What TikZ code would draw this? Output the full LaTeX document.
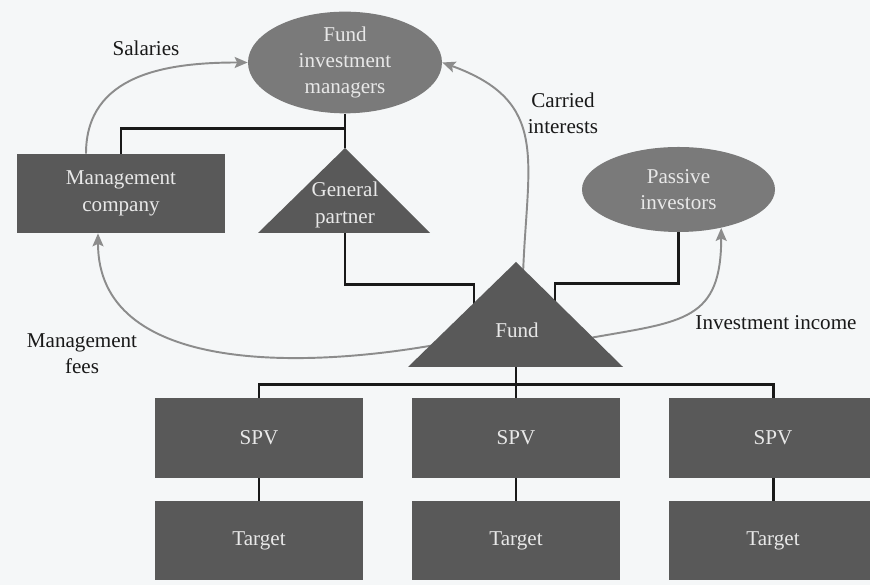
\documentclass[tikz,border=0pt]{standalone}
\usepackage{fontspec}
\setmainfont{Liberation Serif}
\usetikzlibrary{arrows.meta,backgrounds,shapes.geometric}
\definecolor{boxDark}{RGB}{89,89,89}
\definecolor{ovalGray}{RGB}{122,122,122}
\definecolor{flowGray}{RGB}{140,140,140}
\definecolor{paleText}{RGB}{232,232,232}
\definecolor{inkBlack}{RGB}{25,25,25}
\definecolor{pageBg}{RGB}{245,247,248}

\begin{document}
\begin{tikzpicture}[
    font=\fontsize{12}{15}\selectfont, text=inkBlack,
    box/.style={fill=boxDark, text=paleText, minimum width=4.16cm, minimum height=1.58cm, align=center},
    oval/.style={ellipse, fill=ovalGray, text=paleText, minimum width=3.88cm, minimum height=1.7cm, inner sep=0pt, align=center},
    link/.style={line width=1.7pt, inkBlack},
    flow/.style={line width=1.1pt, flowGray, -{Stealth[length=0.26cm,width=0.22cm,inset=0.05cm]}},
    lbl/.style={align=center}
  ]
  \useasboundingbox (0,0) rectangle (17.4,11.7);

  \node[oval] (managers) at (6.9,10.45) {Fund\\investment\\managers};
  \node[oval, minimum width=3.86cm] (passive) at (13.57,7.91) {Passive\\investors};
  \node[box] (mgmtco) at (2.42,7.83) {Management\\company};

  \fill[boxDark] (6.9,8.74) coordinate (gpTop) -- (5.16,7.04) -- (8.6,7.04) -- cycle;
  \node[text=paleText, align=center] (gp) at (6.9,7.6) {General\\partner};
  \coordinate (gpBase) at (6.9,7.04);

  \fill[boxDark] (10.32,6.46) coordinate (fundTop) -- (8.16,4.36) -- (12.46,4.36) -- cycle;
  \node[text=paleText] (fund) at (10.34,5.1) {Fund};
  \coordinate (fundBase) at (10.32,4.36);
  \coordinate (fundLeft) at (9.48,5.3);
  \coordinate (fundRight) at (11.1,5.3);

  \foreach \i/\x in {1/5.18, 2/10.32, 3/15.46} {
    \node[box, minimum height=1.6cm] (spv\i) at (\x,2.94) {SPV};
    \node[box] (target\i) at (\x,0.89) {Target};
  }

  \node[lbl] (salaries) at (2.92,10.74) {Salaries};
  \node[lbl] (carried) at (11.26,9.44) {Carried\\interests};
  \node[lbl] (fees) at (1.64,4.62) {Management\\fees};
  \node[lbl] (income) at (15.52,5.24) {Investment income};

  \begin{scope}[on background layer]
    \fill[pageBg] (0,0) rectangle (17.4,11.7);
    \draw[link] (managers.south) -- (gpTop);
    \draw[link] (mgmtco.north) |- (6.9,9.12);
    \draw[link] (gpBase) |- (9.48,6.0) -- (fundLeft);
    \draw[link] (fundRight) |- (13.57,6.02) -- (passive.south);
    \draw[link] (fundBase) -- (spv2.north);
    \draw[link] (spv1.north) |- (10.32,4.0) -| (spv3.north);
    \foreach \i in {1,2,3} \draw[link] (spv\i.south) -- (target\i.north);

    \draw[flow] ([xshift=-0.7cm]mgmtco.north) to[out=90,in=180,looseness=1.1] (managers.west);
    \draw[flow] (10.46,6.2) to[out=88,in=-20,looseness=1.3] (managers.east);
    \draw[flow] (8.7,4.8) to[out=190,in=-90] ([xshift=-0.46cm]mgmtco.south);
    \draw[flow] (11.85,4.95) to[out=10,in=-90,looseness=1.4] (passive.-42);
  \end{scope}
\end{tikzpicture}
\end{document}
